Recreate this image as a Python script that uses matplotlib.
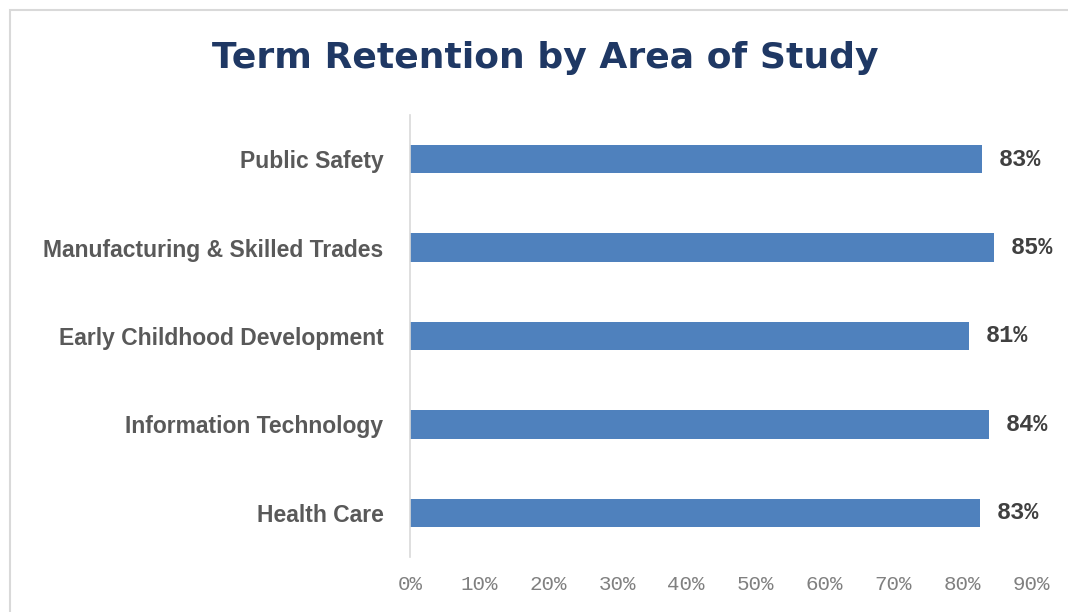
import matplotlib.pyplot as plt
from matplotlib.patches import Rectangle
from matplotlib import font_manager

# data (top to bottom)
categories = ["Public Safety", "Manufacturing & Skilled Trades",
              "Early Childhood Development", "Information Technology", "Health Care"]
retention = [0.829, 0.846, 0.81, 0.839, 0.826]
tick_vals = [0, 0.1, 0.2, 0.3, 0.4, 0.5, 0.6, 0.7, 0.8, 0.9]

names = {f.name for f in font_manager.fontManager.ttflist}
label_font = "Liberation Sans Narrow" if "Liberation Sans Narrow" in names else "Liberation Sans"
label_size = 18 if label_font == "Liberation Sans Narrow" else 16.5
mono_font = "Liberation Mono" if "Liberation Mono" in names else "DejaVu Sans Mono"

fig = plt.figure(figsize=(10.68, 6.12), dpi=100)
ax = fig.add_axes([410 / 1068, 1 - 557 / 612, 621 / 1068, 442 / 612])

# outer chart border
fig.patches.append(Rectangle((10 / 1068, -0.1), 1.2, 1 - 10 / 612 + 0.1,
                             transform=fig.transFigure, fill=False,
                             edgecolor="#d9d9d9", linewidth=1.5))

y = list(range(len(categories)))
ax.barh(y, retention, height=0.32, color="#4F81BD")
ax.set_ylim(len(categories) - 0.5, -0.5)
ax.set_xlim(0, 0.9)

for yi, v in zip(y, retention):
    ax.annotate(f"{round(v * 100)}%", (v, yi), xytext=(12, 0), textcoords="offset points",
                va="center", ha="left", fontsize=17, fontweight="bold",
                family=mono_font, color="#404040")

ax.set_yticks(y)
ax.set_yticklabels(categories, family=label_font, fontweight="bold",
                   fontsize=label_size, color="#595959")
ax.set_xticks(tick_vals)
ax.set_xticklabels([f"{int(round(t * 100))}%" for t in tick_vals],
                   family=mono_font, fontsize=15, color="#808080")
ax.tick_params(axis="both", length=0)
ax.tick_params(axis="y", pad=19)
ax.tick_params(axis="x", pad=13)

for s in ["top", "right", "bottom"]:
    ax.spines[s].set_visible(False)
ax.spines["left"].set_color("#d9d9d9")
ax.spines["left"].set_linewidth(1.2)

fig.text(545 / 1068, 1 - 58 / 612, "Term Retention by Area of Study",
         ha="center", va="center", fontsize=26, fontweight="bold",
         family="DejaVu Sans", color="#1F3864")

fig.savefig("out.png", dpi=100)
